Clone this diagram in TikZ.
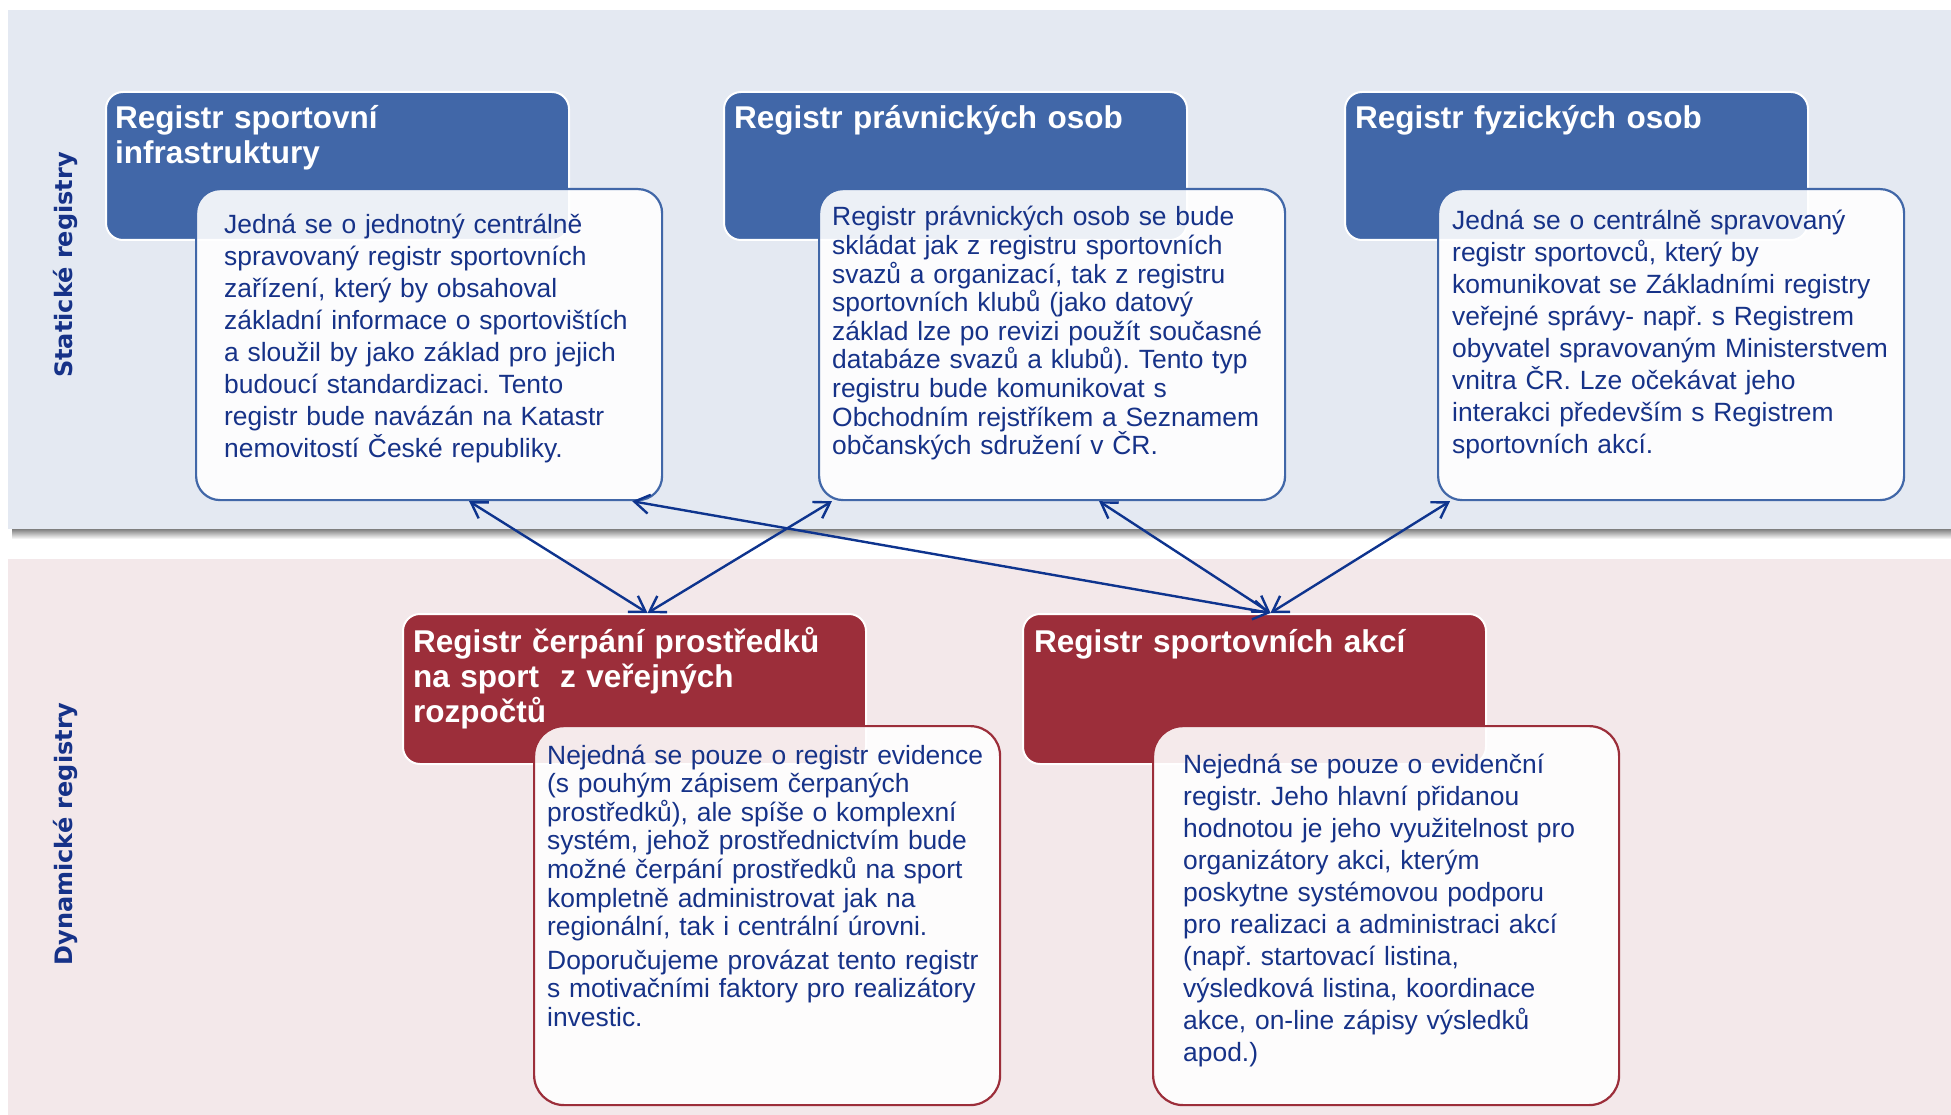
\documentclass[tikz,border=0pt]{standalone}
\usepackage{fontspec}
\setmainfont{Liberation Sans}
\newfontfamily\labelfont{DejaVu Sans}
\usepackage{xcolor}
\usepackage{tikz}
\usetikzlibrary{positioning,arrows.meta}
\frenchspacing

\definecolor{bandblue}{RGB}{228,233,242}
\definecolor{bandred}{RGB}{243,232,234}
\definecolor{headblue}{RGB}{65,103,168}
\definecolor{headred}{RGB}{156,46,58}
\definecolor{textnavy}{RGB}{22,50,136}
\definecolor{linkblue}{RGB}{14,52,142}

\tikzset{
  headbox/.style={rectangle, rounded corners=17pt, draw=white, line width=2pt,
    minimum width=463pt, minimum height=148pt, anchor=north west, inner sep=0pt},
  infobox/.style={rectangle, rounded corners=24pt, fill=white, fill opacity=0.9,
    line width=2.2pt, minimum width=466pt, anchor=north west, inner sep=0pt},
  headtext/.style={anchor=base west, inner sep=0pt, text width=450pt, align=left,
    text=white, font=\fontsize{31.5}{35}\selectfont\bfseries},
  bodytext/.style={anchor=base west, inner sep=0pt, text width=460pt, align=left,
    text=textnavy, font=\fontsize{26.4}{32}\selectfont},
  sidelabel/.style={rotate=90, text=textnavy, font=\labelfont\fontsize{24}{28}\selectfont\bfseries},
  link/.style={{Straight Barb[length=15pt,width=19pt]}-{Straight Barb[length=15pt,width=19pt]},
    draw=linkblue, line width=2.4pt}
}

\begin{document}
\begin{tikzpicture}[x=1pt, y=-1pt]
  \useasboundingbox (0,0) rectangle (1951,1115);

  % Background bands (static / dynamic)
  \shade[top color=black!50, bottom color=white] (12,529) rectangle (1951,539);
  \fill[bandblue] (8,10) rectangle (1951,529);
  \fill[bandred] (8,559) rectangle (1951,1115);
  \node[sidelabel] (lbstat) at (65,265) {Statické registry};
  \node[sidelabel] (lbdyn) at (65,834) {Dynamické registry};

  % Static registers
  \node[headbox, fill=headblue] (hd1) at (105,91) {};
  \node[headbox, fill=headblue] (hd2) at (723,91) {};
  \node[headbox, fill=headblue] (hd3) at (1344,91) {};
  \node[headtext] (hd1txt) at ([xshift=10pt,yshift=-38pt]hd1.north west)
    {Registr sportovní\\infrastruktury};
  \node[headtext] (hd2txt) at ([xshift=11pt,yshift=-38pt]hd2.north west)
    {Registr právnických osob};
  \node[headtext] (hd3txt) at ([xshift=11pt,yshift=-38pt]hd3.north west)
    {Registr fyzických osob};

  \node[infobox, draw=headblue, minimum height=311pt] (tb1) at (195,188) {};
  \node[infobox, draw=headblue, minimum height=311pt] (tb2) at (818,188) {};
  \node[infobox, draw=headblue, minimum height=311pt] (tb3) at (1437,188) {};
  \node[bodytext] (tb1txt) at ([xshift=29pt,yshift=-46pt]tb1.north west)
    {Jedná se o jednotný centrálně\\
     spravovaný registr sportovních\\
     zařízení, který by obsahoval\\
     základní informace o sportovištích\\
     a sloužil by jako základ pro jejich\\
     budoucí standardizaci. Tento\\
     registr bude navázán na Katastr\\
     nemovitostí České republiky.};
  \node[bodytext, font=\fontsize{26.4}{28.6}\selectfont] (tb2txt) at ([xshift=14pt,yshift=-38pt]tb2.north west)
    {Registr právnických osob se bude\\
     skládat jak z registru sportovních\\
     svazů a organizací, tak z registru\\
     sportovních klubů (jako datový\\
     základ lze po revizi použít současné\\
     databáze svazů a klubů). Tento typ\\
     registru bude komunikovat s\\
     Obchodním rejstříkem a Seznamem\\
     občanských sdružení v ČR.};
  \node[bodytext] (tb3txt) at ([xshift=15pt,yshift=-42pt]tb3.north west)
    {Jedná se o centrálně spravovaný\\
     registr sportovců, který by\\
     komunikovat se Základními registry\\
     veřejné správy- např. s Registrem\\
     obyvatel spravovaným Ministerstvem\\
     vnitra ČR. Lze očekávat jeho\\
     interakci především s Registrem\\
     sportovních akcí.};

  % Dynamic registers
  \node[headbox, fill=headred, minimum height=150pt] (hb4) at (402,613) {};
  \node[headbox, fill=headred, minimum height=150pt] (hb5) at (1022,613) {};
  \node[headtext] (hb4txt) at ([xshift=11pt,yshift=-39pt]hb4.north west)
    {Registr čerpání prostředků\\na sport\ \ z veřejných\\rozpočtů};
  \node[headtext] (hb5txt) at ([xshift=12pt,yshift=-39pt]hb5.north west)
    {Registr sportovních akcí};

  \node[infobox, draw=headred, rounded corners=30pt, minimum height=379pt] (tb4) at (533,725) {};
  \node[infobox, draw=headred, rounded corners=30pt, minimum height=379pt] (tb5) at (1152,725) {};
  \node[bodytext, font=\fontsize{26.4}{28.6}\selectfont] (tb4txt) at ([xshift=14pt,yshift=-39pt]tb4.north west)
    {Nejedná se pouze o registr evidence\\
     (s pouhým zápisem čerpaných\\
     prostředků), ale spíše o komplexní\\
     systém, jehož prostřednictvím bude\\
     možné čerpání prostředků na sport\\
     kompletně administrovat jak na\\
     regionální, tak i centrální úrovni.\\[5pt]
     Doporučujeme provázat tento registr\\
     s motivačními faktory pro realizátory\\
     investic.};
  \node[bodytext] (tb5txt) at ([xshift=31pt,yshift=-48pt]tb5.north west)
    {Nejedná se pouze o evidenční\\
     registr. Jeho hlavní přidanou\\
     hodnotou je jeho využitelnost pro\\
     organizátory akci, kterým\\
     poskytne systémovou podporu\\
     pro realizaci a administraci akcí\\
     (např. startovací listina,\\
     výsledková listina, koordinace\\
     akce, on-line zápisy výsledků\\
     apod.)};

  % Links between the registers
  \draw[link] ([xshift=40pt]tb1.south) -- ([xshift=13pt]hb4.north);
  \draw[link] ([xshift=14pt]tb2.south west) -- ([xshift=13pt]hb4.north);
  \draw[link] ([xshift=-31pt]tb1.south east) -- ([xshift=16pt]hb5.north);
  \draw[link] ([xshift=47pt]tb2.south) -- ([xshift=16pt]hb5.north);
  \draw[link] ([xshift=13pt]tb3.south west) -- ([xshift=16pt]hb5.north);
\end{tikzpicture}
\end{document}
